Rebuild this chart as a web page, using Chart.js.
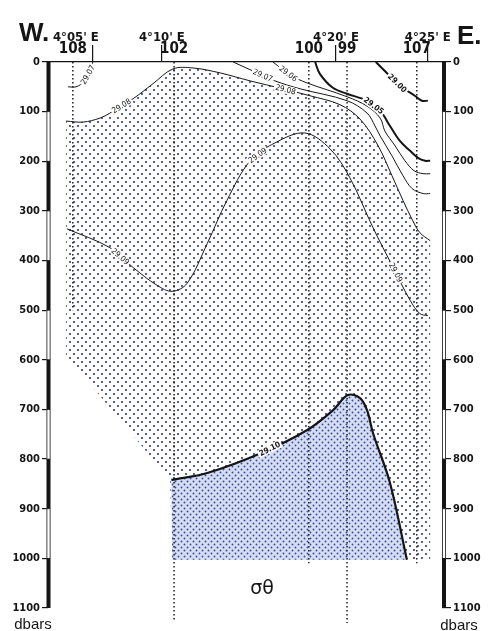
<!DOCTYPE html>
<html>
<head>
<meta charset="utf-8">
<script src="https://cdn.jsdelivr.net/npm/chart.js@4.4.1/dist/chart.umd.min.js"></script>
<style>
  html, body { margin: 0; padding: 0; background: #fff; }
  #wrap { width: 489px; height: 631px; }
</style>
</head>
<body>
<div id="wrap"><canvas id="chart" width="489" height="631"></canvas></div>
<script>
// x = distance along the section (0 = west edge of plot, 100 = east edge), y = pressure in dbar

// stations
const stationNames = ['108', '102', '100', '99', '107'];
const stationX = [6.3, 32.0, 66.2, 75.9, 93.6];
const stationBottom = [500, 1125, 1010, 1130, 1010];

// longitude marks on top axis
const lonLabels = ["4°05' E", "4°10' E", "4°20' E", "4°25' E"];
const lonX = [11.4, 28.9, 73.1, 96.4];

const depthTicks = [0, 100, 200, 300, 400, 500, 600, 700, 800, 900, 1000, 1100];

// sigma-theta isolines, [x, dbar]
const iso2900 = [[83.2, 0], [86.0, 22], [89.3, 48], [93.1, 68], [94.9, 78], [96.4, 78]];
const iso2905 = [[67.8, 0], [69.0, 24], [72.3, 52], [75.9, 64], [81.0, 78], [84.3, 98], [86.8, 129],
  [89.3, 159], [91.9, 179], [93.9, 193], [95.7, 199], [97.0, 199]];
const iso2906 = [[57.1, 0], [61.4, 26], [65.7, 42], [75.9, 70], [81.0, 89], [84.3, 113], [85.5, 139],
  [88.1, 169], [90.6, 199], [92.9, 219], [95.2, 225], [97.0, 225]];
const iso2907w = [[11.4, 0], [10.4, 22], [9.1, 40], [7.1, 50], [5.1, 50]];
const iso2907 = [[47.0, 0], [52.0, 18], [57.6, 38], [64.0, 54], [75.9, 78], [81.0, 103], [83.0, 129],
  [84.3, 149], [87.3, 189], [90.1, 229], [92.4, 255], [95.2, 265], [97.0, 265]];
const iso2908 = [[4.6, 119], [8.9, 121], [13.2, 113], [15.7, 103], [21.6, 74], [26.6, 44], [31.7, 14],
  [36.8, 12], [43.7, 22], [51.3, 38], [59.6, 54], [66.5, 68], [74.1, 86], [79.2, 115], [83.8, 169],
  [87.3, 229], [90.1, 279], [92.6, 320], [94.4, 344], [97.0, 360]];
const iso2909 = [[4.8, 336], [15.7, 374], [21.6, 414], [27.7, 450], [31.5, 462], [35.3, 446], [40.4, 366],
  [45.4, 279], [51.3, 199], [57.6, 163], [65.2, 143], [71.6, 175], [76.6, 233], [82.5, 334], [87.6, 414],
  [91.9, 480], [94.4, 507], [96.4, 511]];
const iso2910 = [[31.3, 842], [40.4, 828], [54.6, 786], [65.7, 742], [72.3, 702], [76.1, 671], [79.2, 677],
  [81.0, 702], [82.5, 748], [86.8, 848], [91.1, 1003]];

// outline of the stippled water below 29.08 / 29.10
const edge2908 = [[97.0, 1003], [31.5, 1003], [31.0, 842], [4.6, 591]];
const edge2910 = [[31.5, 1003]];

const NARROW = "'Liberation Sans Narrow', 'Arial Narrow', 'DejaVu Sans Condensed', 'Liberation Sans', sans-serif";
const INK = '#151515';

const ctx = document.querySelector('#chart').getContext('2d');

function dotPattern(size, dots, r, color, bg) {
  const c = document.createElement('canvas');
  c.width = size; c.height = size;
  const g = c.getContext('2d');
  if (bg) { g.fillStyle = bg; g.fillRect(0, 0, size, size); }
  g.fillStyle = color;
  dots.forEach(([x, y]) => { g.beginPath(); g.arc(x, y, r, 0, Math.PI * 2); g.fill(); });
  return ctx.createPattern(c, 'repeat');
}
const sparsePattern = dotPattern(8, [[2, 2], [6, 6]], 1.05, '#2b3896', null);
const densePattern = dotPattern(6, [[1.5, 1.5], [4.5, 4.5]], 0.95, '#3a4aa8', '#d6def1');

const toXY = arr => arr.map(([x, y]) => ({x, y}));
const iso = (label, data, width) => ({
  label, data: toXY(data), borderColor: INK, borderWidth: width,
  pointRadius: 0, tension: 0.35, fill: false, clip: false
});

const datasets = [
  iso('29.00', iso2900, 2),
  iso('29.05', iso2905, 2),
  iso('29.06', iso2906, 1),
  iso('29.07w', iso2907w, 1),
  iso('29.07', iso2907, 1),
  iso('29.08', iso2908, 1),
  iso('29.09', iso2909, 1),
  iso('29.10', iso2910, 2.2)
];
stationX.forEach((sx, i) => datasets.push({
  label: 'st' + stationNames[i],
  data: [{x: sx, y: 0}, {x: sx, y: stationBottom[i]}],
  borderColor: '#1e1e1e', borderWidth: 1.5, borderDash: [1.5, 2.5],
  pointRadius: 0, tension: 0, fill: false, clip: false
}));

// where the isoline labels sit (index along the line), text, bold
const isoLabels = [
  ['29.00', iso2900, 1.8, true],
  ['29.05', iso2905, 4.5, true],
  ['29.06', iso2906, 0.9, false],
  ['29.07', iso2907, 1.45, false],
  ['29.07', iso2907w, 1.2, false],
  ['29.08', iso2908, 3.5, false],
  ['29.08', iso2908, 10.1, false],
  ['29.09', iso2909, 1.45, false],
  ['29.09', iso2909, 8.3, false],
  ['29.09', iso2909, 14.15, false],
  ['29.10', iso2910, 2.15, true]
];

function curvePath(c, meta) {
  const pts = meta.data;
  pts.forEach((p, i) => {
    if (i === 0) { c.lineTo(p.x, p.y); return; }
    const q = pts[i - 1];
    if (q.cp2x !== undefined && p.cp1x !== undefined) {
      c.bezierCurveTo(q.cp2x, q.cp2y, p.cp1x, p.cp1y, p.x, p.y);
    } else {
      c.lineTo(p.x, p.y);
    }
  });
}

function metaOf(chart, label) {
  const idx = chart.data.datasets.findIndex(d => d.label === label);
  const meta = chart.getDatasetMeta(idx);
  meta.dataset.updateControlPoints(chart.chartArea, 'x');
  return meta;
}

const stipple = {
  id: 'stipple',
  beforeDatasetsDraw(chart) {
    const c = chart.ctx, xs = chart.scales.x, ys = chart.scales.y;
    c.save();
    c.beginPath();
    curvePath(c, metaOf(chart, '29.08'));
    edge2908.forEach(([x, y]) => c.lineTo(xs.getPixelForValue(x), ys.getPixelForValue(y)));
    c.closePath();
    c.fillStyle = sparsePattern;
    c.fill();

    c.beginPath();
    curvePath(c, metaOf(chart, '29.10'));
    edge2910.forEach(([x, y]) => c.lineTo(xs.getPixelForValue(x), ys.getPixelForValue(y)));
    c.closePath();
    c.fillStyle = densePattern;
    c.fill();
    c.restore();
  },
  afterDatasetsDraw(chart) {
    const c = chart.ctx, xs = chart.scales.x, ys = chart.scales.y;
    isoLabels.forEach(([text, data, at, bold]) => {
      const i = Math.floor(at), f = at - i;
      const a = data[i], b = data[i + 1];
      const ax = xs.getPixelForValue(a[0]), ay = ys.getPixelForValue(a[1]);
      const bx = xs.getPixelForValue(b[0]), by = ys.getPixelForValue(b[1]);
      const px = ax + (bx - ax) * f, py = ay + (by - ay) * f;
      let ang = Math.atan2(by - ay, bx - ax);
      if (ang > Math.PI / 2) ang -= Math.PI;
      if (ang < -Math.PI / 2) ang += Math.PI;
      c.save();
      c.translate(px, py);
      c.rotate(ang);
      c.font = (bold ? 'bold ' : '') + '8px ' + NARROW;
      const w = c.measureText(text).width;
      c.fillStyle = '#fff';
      c.fillRect(-w / 2 - 1.5, -4, w + 3, 8);
      c.fillStyle = INK;
      c.textAlign = 'center';
      c.textBaseline = 'middle';
      c.fillText(text, 0, 0.5);
      c.restore();
    });
  },
  afterDraw(chart) {
    const c = chart.ctx, xs = chart.scales.x, ys = chart.scales.y;
    const area = chart.chartArea;
    c.save();
    // alternating black / white depth bars
    [area.left - 1.5, area.right].forEach(bx => {
      for (let i = 0; i < depthTicks.length - 1; i++) {
        const y0 = ys.getPixelForValue(depthTicks[i]);
        const y1 = ys.getPixelForValue(depthTicks[i + 1]);
        if (i % 2 === 0) {
          c.fillStyle = INK;
          c.fillRect(bx, y0, 4, y1 - y0);
        } else {
          c.fillStyle = '#fff';
          c.fillRect(bx, y0, 4, y1 - y0);
          c.strokeStyle = INK;
          c.lineWidth = 0.8;
          c.strokeRect(bx + 0.4, y0, 3.2, y1 - y0);
        }
      }
    });

    c.fillStyle = INK;
    c.textAlign = 'center';
    c.textBaseline = 'middle';
    c.font = 'bold 15px ' + NARROW;
    stationX.forEach((sx, i) => c.fillText(stationNames[i], xs.getPixelForValue(sx), 49.5));

    c.font = 'bold 13px ' + NARROW;
    lonX.forEach((lx, i) => c.fillText(lonLabels[i], xs.getPixelForValue(lx) - (i === 0 ? 17 : 0), 37.5));

    c.textBaseline = 'alphabetic';
    c.font = "bold 26px 'Liberation Sans', Arial, sans-serif";
    c.textAlign = 'left';
    c.fillText('W.', 19, 41);
    c.fillText('E.', 457, 44);

    c.font = "15px 'Liberation Sans', Arial, sans-serif";
    c.textAlign = 'center';
    c.fillText('dbars', 33, 629);
    c.fillText('dbars', 459, 630);

    c.font = "19px 'DejaVu Sans', sans-serif";
    c.fillText('σθ', 262, 594);
    c.restore();
  }
};

const tickFont = {family: NARROW, size: 11, weight: 'bold'};

new Chart(ctx, {
  type: 'line',
  data: {datasets},
  options: {
    responsive: false,
    animation: false,
    devicePixelRatio: 1,
    events: [],
    layout: {padding: {top: 0, bottom: 23, left: 0, right: 0}},
    plugins: {legend: {display: false}, tooltip: {enabled: false}},
    scales: {
      x: {
        type: 'linear', position: 'top', min: 0, max: 100,
        afterBuildTicks: s => { s.ticks = lonX.map(v => ({value: v})); },
        ticks: {display: false},
        grid: {drawOnChartArea: false, tickLength: 17, color: INK, lineWidth: 1.2},
        border: {color: INK, width: 1.3},
        afterFit: s => { s.height = 62; }
      },
      y: {
        type: 'linear', position: 'left', reverse: true, min: 0, max: 1100,
        afterBuildTicks: s => { s.ticks = depthTicks.map(v => ({value: v})); },
        ticks: {font: tickFont, color: INK, padding: 2, callback: v => String(v)},
        grid: {drawOnChartArea: false, tickLength: 6, color: INK, lineWidth: 1.2},
        border: {display: false},
        afterFit: s => { s.width = 48; }
      },
      y2: {
        type: 'linear', position: 'right', reverse: true, min: 0, max: 1100,
        afterBuildTicks: s => { s.ticks = depthTicks.map(v => ({value: v})); },
        ticks: {font: tickFont, color: INK, padding: 2, callback: v => String(v)},
        grid: {drawOnChartArea: false, tickLength: 9, color: INK, lineWidth: 1.2},
        border: {display: false},
        afterFit: s => { s.width = 47; }
      }
    }
  },
  plugins: [stipple]
});
</script>
</body>
</html>
